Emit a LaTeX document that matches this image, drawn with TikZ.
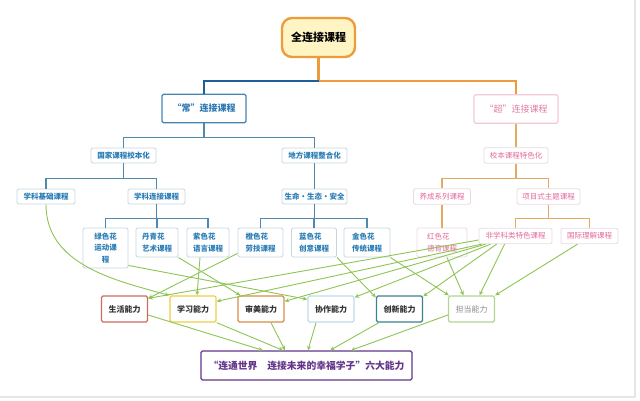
\documentclass[tikz,border=0pt]{standalone}
\usepackage{fontspec}
\setmainfont{Noto Sans CJK SC}
\usepackage{tikz}
\usetikzlibrary{arrows.meta}
\usepackage{xcolor}
\definecolor{rootorange}{HTML}{EE9B3B}
\definecolor{rootfill}{HTML}{FFF5C4}
\definecolor{darkblue}{HTML}{1F5E99}
\definecolor{treeblue}{HTML}{4F89AE}
\definecolor{treeorange}{HTML}{E3AA62}
\definecolor{chblue}{HTML}{4683B0}
\definecolor{chtext}{HTML}{2D77B2}
\definecolor{chaopink}{HTML}{F4C9D8}
\definecolor{chaotext}{HTML}{E27DA5}
\definecolor{bluegrey}{HTML}{C4D6E0}
\definecolor{courseblue}{HTML}{2B7DB6}
\definecolor{pinkgrey}{HTML}{EADADF}
\definecolor{coursepink}{HTML}{E4699B}
\definecolor{lifered}{HTML}{CC6B5E}
\definecolor{studyyellow}{HTML}{F0CE45}
\definecolor{artorange}{HTML}{DB8C47}
\definecolor{teamblue}{HTML}{BFDCEA}
\definecolor{innoteal}{HTML}{3B8290}
\definecolor{dutygreen}{HTML}{B2D494}
\definecolor{dutytext}{HTML}{8C8C8C}
\definecolor{abiltext}{HTML}{333333}
\definecolor{goalpurple}{HTML}{62358A}
\definecolor{leafgreen}{HTML}{8DC453}
\definecolor{framegrey}{HTML}{E6E6E6}

\begin{document}
\begin{tikzpicture}[x=1pt, y=-1pt,
  box/.style={draw, rounded corners=1.5pt, inner sep=0pt, fill=white, line width=0.9pt, align=center},
  rootbox/.style={box, draw=rootorange, fill=rootfill, rounded corners=10pt, line width=2.4pt, minimum width=73pt, minimum height=39pt, font=\bfseries\fontsize{11}{13}\selectfont},
  headbox/.style={box, line width=1.3pt, minimum width=84pt, minimum height=28.5pt, font=\bfseries\fontsize{9}{11}\selectfont},
  bbox/.style={box, draw=bluegrey, text=courseblue, minimum height=15pt, font=\bfseries\fontsize{7.5}{11.5}\selectfont},
  pbox/.style={box, draw=pinkgrey, text=coursepink, minimum height=15.5pt, font=\fontsize{7.5}{11.5}\selectfont},
  flower/.style={minimum height=29pt, align=left},
  abil/.style={box, line width=1.3pt, minimum width=46pt, minimum height=26pt, text=abiltext, font=\bfseries\fontsize{8}{10}\selectfont},
  goalbox/.style={box, draw=goalpurple, text=goalpurple, line width=1.3pt, minimum width=211pt, minimum height=29pt, font=\bfseries\fontsize{9.8}{12}\selectfont},
  tline/.style={line width=2.4pt},
  bline/.style={draw=treeblue, line width=1.4pt},
  oline/.style={draw=treeorange, line width=1.4pt},
  garr/.style={draw=leafgreen, line width=0.9pt, -{Stealth[length=4.5pt,width=4pt]}}
]
\useasboundingbox (0,0) rectangle (640,401);
\draw[framegrey, line width=2pt] (0,397) -- (635,397) -- (635,0);

% Root and the two branches
\node[rootbox] (root) at (318.5,37.5) {全连接课程};
\node[headbox, draw=chblue, text=chtext] (chang) at (204,108.5) {“常”连接课程};
\node[headbox, draw=chaopink, text=chaotext, font=\fontsize{9}{11}\selectfont] (chao) at (516,109) {“超”连接课程};

% "Chang" tier
\node[bbox, minimum width=65pt] (guojia) at (123.5,155.5) {国家课程校本化};
\node[bbox, minimum width=65pt] (difang) at (314.5,155.5) {地方课程整合化};
\node[bbox, minimum width=58pt] (jichu) at (46,196.5) {学科基础课程};
\node[bbox, minimum width=57pt] (lianjie) at (156.5,196.5) {学科连接课程};
\node[bbox, minimum width=65pt] (shengming) at (314.5,196.5) {生命·生态·安全};
\node[bbox, minimum width=45pt, minimum height=40pt] (lvse) at (105.5,248) {绿色花\\运动课\\程};
\node[bbox, flower, minimum width=42pt] (danqing) at (157,242.5) {丹青花\\艺术课程};
\node[bbox, flower, minimum width=42pt] (zise) at (208,242.5) {紫色花\\语言课程};
\node[bbox, flower, minimum width=45pt] (chengse) at (260.5,242.5) {橙色花\\劳技课程};
\node[bbox, flower, minimum width=45pt] (lanse) at (314,242.5) {蓝色花\\创意课程};
\node[bbox, flower, minimum width=46pt] (jinse) at (367,242.5) {金色花\\传统课程};

% "Chao" tier
\node[pbox, minimum width=64pt] (xiaoben) at (516,155.5) {校本课程特色化};
\node[pbox, minimum width=57pt] (yangcheng) at (442,196.5) {养成系列课程};
\node[pbox, minimum width=63pt] (xiangmu) at (548.5,196.5) {项目式主题课程};
\node[pbox, flower, minimum width=50pt] (hongse) at (442,242.5) {红色花\\德育课程};
\node[pbox, minimum width=73pt] (feixueke) at (515.5,236) {非学科类特色课程};
\node[pbox, minimum width=57pt] (guoji) at (589.5,236) {国际理解课程};

% Abilities
\node[abil, draw=lifered] (shenghuo) at (124.5,309) {生活能力};
\node[abil, draw=studyyellow] (xuexi) at (193,309) {学习能力};
\node[abil, draw=artorange] (shenmei) at (261,309) {审美能力};
\node[abil, draw=teamblue] (xiezuo) at (331,309) {协作能力};
\node[abil, draw=innoteal] (chuangxin) at (399.5,309) {创新能力};
\node[abil, draw=dutygreen, text=dutytext, font=\fontsize{8}{10}\selectfont] (dandang) at (471.5,309) {担当能力};
\node[goalbox] (goal) at (306.5,365.5) {“连通世界\quad 连接未来的幸福学子”六大能力};

% Tree lines
\draw[tline, draw=rootorange] (root.south) -- ++(0,23) -| (chao.north);
\draw[tline, draw=darkblue] ([yshift=-23pt]root.south) -| (chang.north);
\draw[bline] (chang.south) -- ++(0,14) -| (guojia.north);
\draw[bline] (chang.south) -- ++(0,14) -| (difang.north);
\draw[bline] (guojia.south) -- ++(0,15) -| (jichu.north);
\draw[bline] (guojia.south) -- ++(0,15) -| (lianjie.north);
\draw[bline] (difang) -- (shengming);
\draw[bline] (lianjie.south) -- ++(0,14) -| (lvse.north);
\draw[bline] (lianjie.south) -- ++(0,14) -| (danqing.north);
\draw[bline] (lianjie.south) -- ++(0,14) -| (zise.north);
\draw[bline] (shengming.south) -- ++(0,14) -| (chengse.north);
\draw[bline] (shengming.south) -- ++(0,14) -| (lanse.north);
\draw[bline] (shengming.south) -- ++(0,14) -| (jinse.north);
\draw[oline] (chao) -- (xiaoben);
\draw[oline] (xiaoben.south) -- ++(0,15) -| (yangcheng.north);
\draw[oline] (xiaoben.south) -- ++(0,15) -| (xiangmu.north);
\draw[oline] (yangcheng) -- (hongse);
\draw[oline] (xiangmu.south) -- ++(0,14) -| (feixueke.north);
\draw[oline] (xiangmu.south) -- ++(0,14) -| (guoji.north);

% Courses to abilities
\draw[garr] (jichu.south) .. controls +(0,60) and +(-55,-15) .. (xuexi.north west);
\draw[garr] ([yshift=3pt]lvse.south east) -- ([yshift=-4pt]xiezuo.north west);
\draw[garr] (danqing.south east) -- ([xshift=3pt]shenmei.north west);
\draw[garr] ([xshift=-8pt]zise.south) -- ([xshift=4pt]xuexi.north);
\draw[garr] ([yshift=4pt]chengse.south west) -- ([yshift=-3pt]shenghuo.north east);
\draw[garr] (lanse.south east) -- ([yshift=-2pt]chuangxin.north west);
\draw[garr] (jinse.south east) -- ([xshift=1pt]dandang.north west);
\draw[garr] ([xshift=5pt]hongse.south) -- ([xshift=-8pt]dandang.north);
\draw[garr] ([yshift=-4pt]feixueke.west) -- ([yshift=-3pt]shenghuo.north east);
\draw[garr] ([xshift=3pt]feixueke.south west) -- ([yshift=-6pt]xuexi.north east);
\draw[garr] ([xshift=7pt]feixueke.south west) -- ([yshift=-6pt]shenmei.north east);
\draw[garr] ([xshift=12pt]feixueke.south west) -- ([yshift=-2pt]xiezuo.north east);
\draw[garr] ([xshift=18pt]feixueke.south west) -- ([yshift=-1pt]chuangxin.north east);
\draw[garr] ([xshift=26pt]feixueke.south west) -- ([xshift=8pt]dandang.north);
\draw[garr] ([xshift=-12pt]guoji.south) -- (dandang.north east);

% Abilities to goal
\draw[garr] ([yshift=-6pt]shenghuo.east) -- ([xshift=-43.5pt]goal.north);
\draw[garr] (xuexi.south east) -- ([xshift=-23.5pt]goal.north);
\draw[garr] ([xshift=10pt]shenmei.south) -- ([xshift=-21.5pt]goal.north);
\draw[garr] ([xshift=-15pt]xiezuo.south) -- ([xshift=1.5pt]goal.north);
\draw[garr] ([xshift=3pt]chuangxin.south west) -- ([xshift=23.5pt]goal.north);
\draw[garr] ([yshift=-6pt]dandang.west) -- ([xshift=44.5pt]goal.north);

\end{tikzpicture}
\end{document}
